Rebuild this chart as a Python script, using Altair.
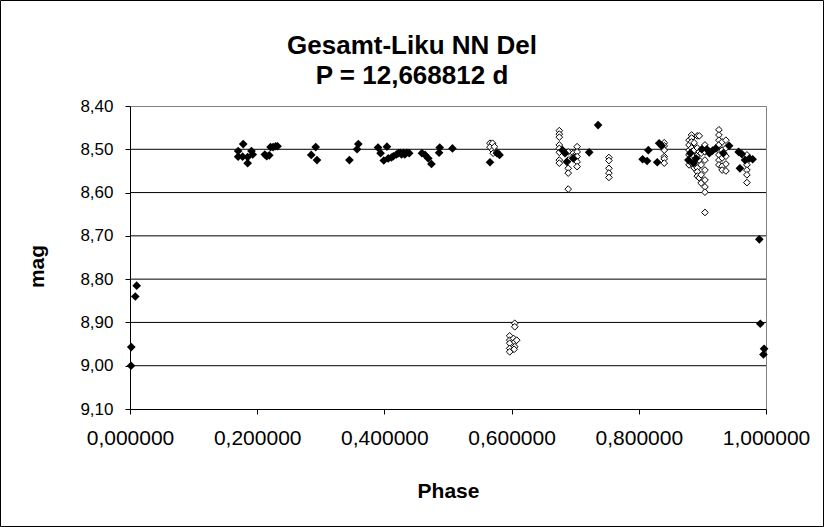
import altair as alt
import pandas as pd

# Filled diamonds: phase / magnitude
filled_phase = [0.0016, 0.0020, 0.0083, 0.0105,
                0.170, 0.170, 0.178, 0.177, 0.185, 0.185, 0.191, 0.193, 0.212, 0.215,
                0.219, 0.221, 0.225, 0.229, 0.232, 0.285, 0.292, 0.294, 0.345, 0.357,
                0.359, 0.390, 0.394, 0.404, 0.399, 0.406, 0.411, 0.414, 0.419, 0.422,
                0.425, 0.427, 0.430, 0.432, 0.435, 0.439, 0.459, 0.464, 0.469, 0.474,
                0.487, 0.486, 0.507, 0.566, 0.581, 0.577, 0.680, 0.684, 0.687, 0.697,
                0.722, 0.736, 0.815, 0.806, 0.813, 0.829, 0.832, 0.836, 0.878, 0.881,
                0.886, 0.890, 0.899, 0.907, 0.911, 0.916, 0.921, 0.933, 0.942, 0.957,
                0.962, 0.959, 0.967, 0.974, 0.979, 0.9895, 0.991, 0.997, 0.996]
filled_mag = [9.000, 8.957, 8.840, 8.815,
              8.504, 8.517, 8.488, 8.517, 8.518, 8.532, 8.504, 8.512, 8.512, 8.516,
              8.514, 8.495, 8.495, 8.493, 8.493, 8.513, 8.495, 8.525, 8.525, 8.500,
              8.488, 8.496, 8.509, 8.494, 8.526, 8.521, 8.519, 8.516, 8.512, 8.509,
              8.508, 8.512, 8.508, 8.512, 8.508, 8.509, 8.509, 8.513, 8.521, 8.534,
              8.496, 8.508, 8.498, 8.530, 8.513, 8.509, 8.502, 8.509, 8.529, 8.521,
              8.507, 8.444, 8.502, 8.523, 8.527, 8.530, 8.486, 8.492, 8.525, 8.509,
              8.532, 8.521, 8.500, 8.500, 8.509, 8.503, 8.498, 8.509, 8.492, 8.506,
              8.511, 8.544, 8.525, 8.521, 8.523, 8.708, 8.903, 8.961, 8.974]

# Open diamonds: phase / magnitude
open_phase = [0.566, 0.566, 0.570, 0.570, 0.571, 0.573, 0.577,
              0.605, 0.605, 0.597, 0.597, 0.597, 0.597, 0.597, 0.603, 0.605, 0.608, 0.605, 0.604,
              0.675, 0.675, 0.675, 0.675, 0.675, 0.675, 0.675, 0.675,
              0.689, 0.689, 0.689, 0.689, 0.689,
              0.697, 0.697,
              0.703, 0.703, 0.703, 0.703, 0.703,
              0.753, 0.753, 0.753, 0.753, 0.753,
              0.840, 0.840, 0.840, 0.840, 0.840, 0.840,
              0.879, 0.879, 0.879, 0.879, 0.879, 0.879,
              0.883, 0.883, 0.883, 0.883, 0.883, 0.883, 0.883,
              0.887, 0.887, 0.887, 0.887, 0.887,
              0.892, 0.892, 0.892, 0.892, 0.892, 0.892,
              0.895, 0.895, 0.895, 0.895,
              0.898, 0.898, 0.898, 0.898,
              0.904, 0.904, 0.904, 0.904, 0.904, 0.904, 0.904, 0.904,
              0.926, 0.926, 0.926, 0.926, 0.926, 0.926, 0.926, 0.926,
              0.931, 0.931, 0.931, 0.931, 0.931,
              0.937, 0.937, 0.937, 0.937, 0.937,
              0.970, 0.970, 0.970, 0.970, 0.970, 0.970]
open_mag = [8.486, 8.495, 8.486, 8.502, 8.509, 8.494, 8.506,
            8.902, 8.910, 8.931, 8.941, 8.948, 8.960, 8.968, 8.937, 8.945, 8.941, 8.956, 8.962,
            8.457, 8.465, 8.472, 8.490, 8.498, 8.507, 8.525, 8.532,
            8.506, 8.525, 8.544, 8.555, 8.592,
            8.509, 8.517,
            8.494, 8.506, 8.517, 8.529, 8.540,
            8.519, 8.526, 8.544, 8.555, 8.565,
            8.485, 8.492, 8.502, 8.517, 8.522, 8.532,
            8.479, 8.490, 8.502, 8.513, 8.525, 8.536,
            8.467, 8.474, 8.483, 8.497, 8.506, 8.520, 8.532,
            8.485, 8.502, 8.516, 8.529, 8.543,
            8.469, 8.497, 8.513, 8.543, 8.552, 8.562,
            8.469, 8.506, 8.525, 8.566,
            8.509, 8.536, 8.559, 8.578,
            8.490, 8.506, 8.525, 8.548, 8.571, 8.587, 8.599, 8.646,
            8.455, 8.467, 8.479, 8.490, 8.502, 8.513, 8.525, 8.536,
            8.483, 8.502, 8.520, 8.539, 8.548,
            8.479, 8.497, 8.516, 8.534, 8.550,
            8.513, 8.525, 8.536, 8.548, 8.559, 8.577]

y_ticks = [8.4, 8.5, 8.6, 8.7, 8.8, 8.9, 9.0, 9.1]
x_ticks = [0.0, 0.2, 0.4, 0.6, 0.8, 1.0]
grid_mags = [8.5, 8.6, 8.7, 8.8, 8.9, 9.0]
title_lines = ["Gesamt-Liku NN Del", "P = 12,668812 d"]

FONT = "Liberation Sans"

filled_df = pd.DataFrame({"phase": filled_phase, "mag": filled_mag})
open_df = pd.DataFrame({"phase": open_phase, "mag": open_mag})
grid_df = pd.DataFrame({"mag": grid_mags})

x_scale = alt.Scale(domain=[0, 1], nice=False, zero=False)
y_scale = alt.Scale(domain=[8.4, 9.1], reverse=True, nice=False, zero=False)

x_axis = alt.Axis(
    title="Phase", values=x_ticks,
    labelExpr="replace(format(datum.value, '.6f'), '.', ',')",
    grid=False, domainColor="black", tickColor="black", tickSize=5,
    labelFlush=False, labelOverlap=False, labelBound=False,
    labelFont=FONT, labelFontSize=21, labelColor="black", labelPadding=13,
    titleFont=FONT, titleFontSize=21, titleFontWeight="bold", titleColor="black",
    titleY=82, titleBaseline="middle",
)
y_axis = alt.Axis(
    title="mag", values=y_ticks,
    labelExpr="replace(format(datum.value, '.2f'), '.', ',')",
    grid=False, domainColor="black", tickColor="black", tickSize=5,
    labelFlush=False, labelOverlap=False, labelBound=False,
    labelFont=FONT, labelFontSize=17, labelColor="black", labelPadding=12,
    titleFont=FONT, titleFontSize=21, titleFontWeight="bold", titleColor="black",
    titleX=-93, titleY=160, titleBaseline="middle", titleAngle=-90,
)

grid = alt.Chart(grid_df).mark_rule(color="black", strokeWidth=1).encode(
    y=alt.Y("mag:Q", scale=y_scale, axis=y_axis),
)

open_pts = alt.Chart(open_df).mark_point(
    shape="diamond", filled=True, fill="white", stroke="black",
    strokeWidth=1, size=45, opacity=1,
).encode(
    x=alt.X("phase:Q", scale=x_scale, axis=x_axis),
    y=alt.Y("mag:Q", scale=y_scale),
)

filled_pts = alt.Chart(filled_df).mark_point(
    shape="diamond", filled=True, color="black", size=75, opacity=1,
).encode(
    x=alt.X("phase:Q", scale=x_scale),
    y=alt.Y("mag:Q", scale=y_scale),
)


def heading_line(text, y):
    # one line of the two-line heading, centred on the whole picture
    return alt.Chart(pd.DataFrame({"line": [text]})).mark_text(
        font=FONT, fontSize=26, fontWeight="bold", color="black",
        align="center", baseline="alphabetic",
    ).encode(text="line:N", x=alt.value(282), y=alt.value(y))


heading = alt.layer(heading_line(title_lines[0], -52), heading_line(title_lines[1], -22))

# thin black frame around the whole picture
frame = alt.Chart(grid_df.head(1)).mark_rect(
    fill=None, stroke="black", strokeWidth=1,
).encode(
    x=alt.value(-129.5), x2=alt.value(693.5),
    y=alt.value(-105.5), y2=alt.value(420.5),
)

chart = alt.layer(grid, open_pts, filled_pts, heading, frame).properties(
    width=636, height=303,
    padding={"left": 130, "top": 106, "right": 58, "bottom": 118},
    autosize=alt.AutoSizeParams(type="none"),
    background="white",
).configure_view(stroke="#808080", strokeWidth=1)

chart.save("out.html", embed_options={"renderer": "svg", "actions": False})
